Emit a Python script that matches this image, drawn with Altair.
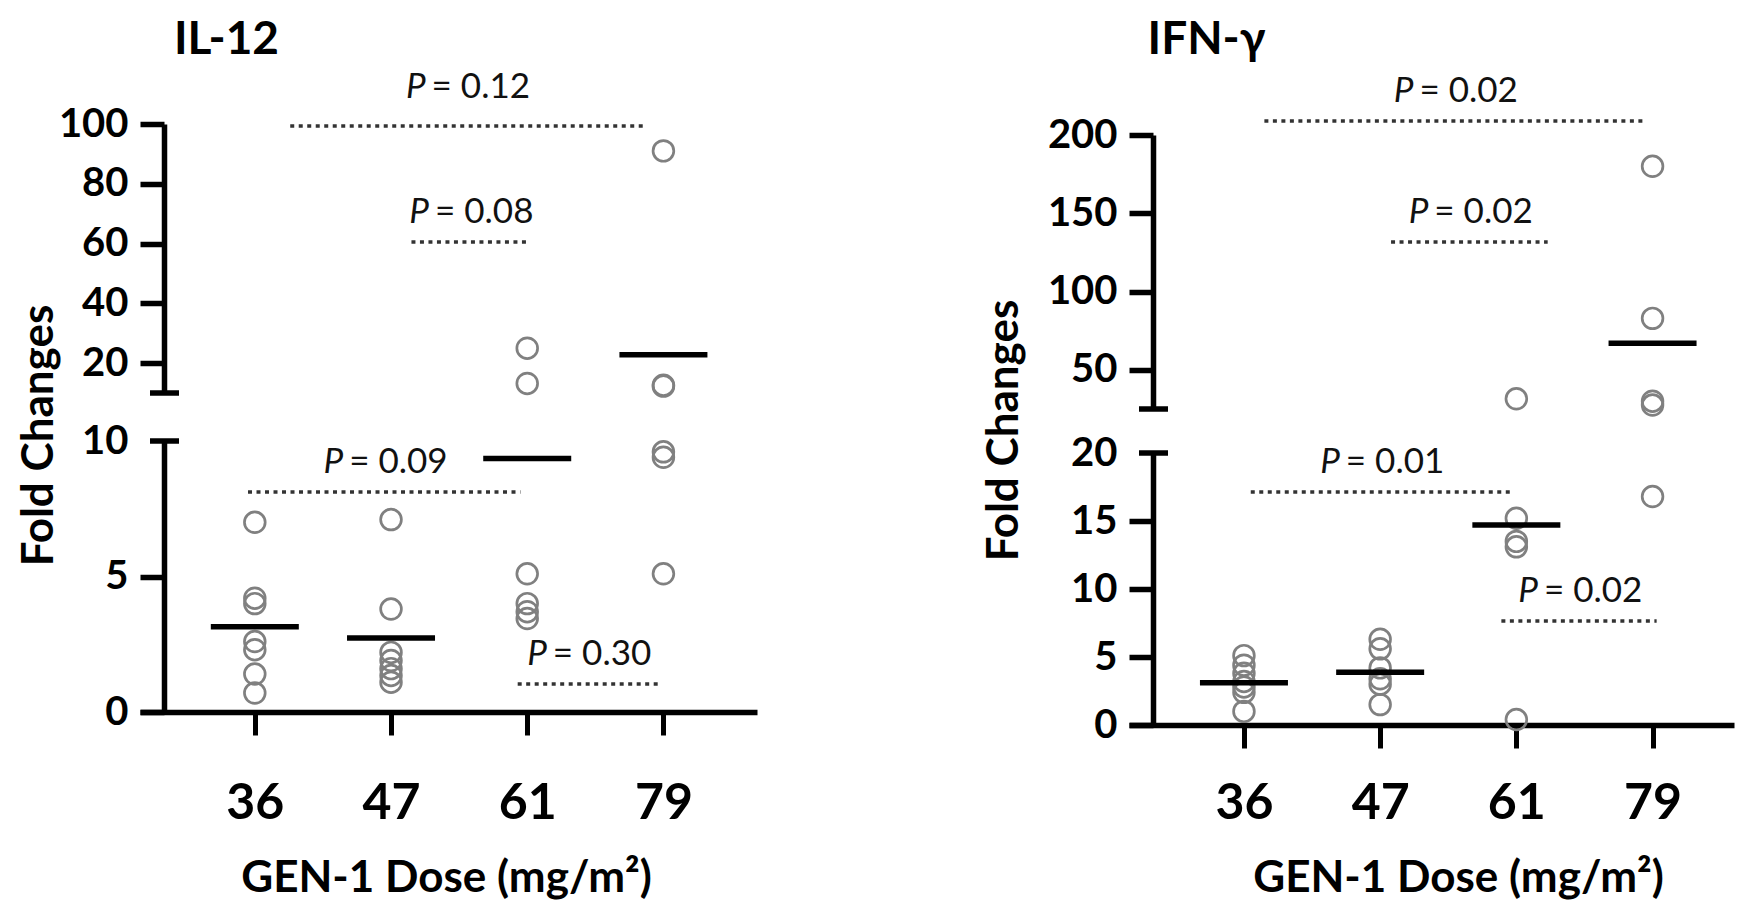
import altair as alt
import pandas as pd

FONT = "Lato"
doses = ["36", "47", "61", "79"]
x_title = "GEN-1 Dose (mg/m²)"
y_title = "Fold Changes"

# ---- IL-12 fold changes per dose group ----
il12_36 = [7.0, 4.2, 4.0, 2.6, 2.3, 1.4, 0.7]
il12_47 = [7.1, 3.8, 2.2, 1.9, 1.6, 1.35, 1.1]
il12_61 = [25.0, 13.2, 5.1, 4.0, 3.7, 3.45]
il12_79 = [91.0, 12.6, 12.3, 9.6, 9.4, 5.1]
il12_mean = [3.15, 2.73, 9.35, 22.8]

# ---- IFN-gamma fold changes per dose group ----
ifn_36 = [5.1, 4.4, 3.8, 3.2, 2.8, 2.4, 1.0]
ifn_47 = [6.3, 5.6, 4.2, 3.4, 3.0, 1.5]
ifn_61 = [31.5, 15.2, 13.5, 13.1, 0.4]
ifn_79 = [180.0, 82.9, 30.0, 27.5, 16.8]
ifn_mean = [3.1, 3.87, 14.7, 67.0]

# ---- P-value brackets (group position 0..3 = 36..79) ----
il12_p_text = ["= 0.12", "= 0.08", "= 0.09", "= 0.30"]
il12_p_from = [0.26, 1.15, -0.05, 1.93]
il12_p_to = [2.85, 2.01, 1.95, 2.96]
il12_p_level = [99.3, 60.5, 8.12, 1.03]
il12_p_text_level = [108.7, 66.9, 8.82, 1.73]

ifn_p_text = ["= 0.02", "= 0.02", "= 0.01", "= 0.02"]
ifn_p_from = [0.15, 1.08, 0.05, 1.89]
ifn_p_to = [2.94, 2.23, 1.96, 3.03]
ifn_p_level = [208.9, 131.7, 17.13, 7.65]
ifn_p_text_level = [221.1, 143.8, 18.53, 9.04]

W, H = 1730, 891
AXW = 5.5
label_expr = "[" + ",".join("'%s'" % d for d in doses) + "][datum.value]"
LABEL_STYLE = dict(labelFont=FONT, labelFontSize=40, labelFontWeight="bold",
                   labelColor="black")


def points_df(groups):
    rows = []
    for i, vals in enumerate(groups):
        for v in vals:
            rows.append({"pos": i, "value": v})
    return pd.DataFrame(rows)


def mean_df(means):
    return pd.DataFrame({"pos": list(range(len(means))), "value": means})


def ann_df(texts, x1, x2, lvl, tl):
    return pd.DataFrame({
        "t": texts, "x1": x1, "x2": x2, "lvl": lvl, "tl": tl,
        "xc": [(a + b) / 2 for a, b in zip(x1, x2)],
        "p": ["P"] * len(texts),
    })


def y_axis(ticks, offset, title_kw):
    return alt.Axis(orient="left", values=ticks, offset=offset, tickSize=24,
                    tickWidth=AXW, tickColor="black", domainWidth=AXW,
                    domainColor="black", labelPadding=12, grid=False,
                    **LABEL_STYLE, **title_kw)


def cap_axis(cap, offset):
    # label only (no tick) for the value at the axis break
    return alt.Axis(orient="left", values=[cap], offset=offset, ticks=False,
                    tickSize=0, domain=False, labelPadding=36, grid=False,
                    title=None, **LABEL_STYLE)


def segment(pts, means, ann, xs, ys, cap, cap_px, x_axis, y_ax, cap_ax):
    layers = []
    layers.append(alt.Chart(pts).mark_point(
        shape="circle", size=430, strokeWidth=2.7, color="#808080",
        filled=False, opacity=1
    ).encode(
        x=alt.X("pos:Q", scale=xs, axis=x_axis),
        y=alt.Y("value:Q", scale=ys, axis=y_ax),
    ))
    layers.append(alt.Chart(means).mark_tick(
        orient="horizontal", size=88, thickness=5.5, color="black", opacity=1
    ).encode(
        x=alt.X("pos:Q", scale=xs, axis=None),
        y=alt.Y("value:Q", scale=ys, axis=None),
    ))
    layers.append(alt.Chart(pd.DataFrame({"c": [cap]})).mark_rule(
        color="black", strokeWidth=AXW
    ).encode(
        x=alt.value(cap_px[0]), x2=alt.value(cap_px[1]),
        y=alt.Y("c:Q", scale=ys, axis=cap_ax),
    ))
    if len(ann):
        layers.append(alt.Chart(ann).mark_rule(
            color="#333333", strokeWidth=3.5, strokeDash=[4, 4.5]
        ).encode(
            x=alt.X("x1:Q", scale=xs, axis=None), x2="x2:Q",
            y=alt.Y("lvl:Q", scale=ys, axis=None),
        ))
        layers.append(alt.Chart(ann).mark_text(
            font=FONT, fontSize=35, align="left", baseline="alphabetic",
            dx=-35, color="#111111"
        ).encode(
            x=alt.X("xc:Q", scale=xs, axis=None),
            y=alt.Y("tl:Q", scale=ys, axis=None),
            text="t:N",
        ))
        layers.append(alt.Chart(ann).mark_text(
            font=FONT, fontSize=35, fontStyle="italic", align="right",
            baseline="alphabetic", dx=-41, color="#111111"
        ).encode(
            x=alt.X("xc:Q", scale=xs, axis=None),
            y=alt.Y("tl:Q", scale=ys, axis=None),
            text="p:N",
        ))
    return layers


def top_axis(title, tx, ty):
    return alt.Axis(orient="top", offset=0, title=title, titleX=tx, titleY=ty,
                    titleAlign="center", titleBaseline="alphabetic",
                    titleAngle=0, titleFont=FONT, titleFontSize=46,
                    titleFontWeight="bold", titleColor="black",
                    labels=False, ticks=False, domain=False, grid=False)


def bottom_axis(offset, lp, tx, ty):
    return alt.Axis(orient="bottom", offset=offset, values=[0, 1, 2, 3],
                    labelExpr=label_expr, tickSize=23, tickWidth=5,
                    tickColor="black", domainWidth=AXW, domainColor="black",
                    labelFont=FONT, labelFontSize=50, labelFontWeight="bold",
                    labelColor="black", labelBaseline="alphabetic",
                    labelPadding=lp, labelFlush=False, grid=False,
                    title=x_title, titleX=tx, titleY=ty, titleAlign="center",
                    titleBaseline="alphabetic", titleAngle=0, titleFont=FONT,
                    titleFontSize=44, titleFontWeight="bold", titleColor="black")


def ytitle_kw(tx, ty):
    return dict(title=y_title, titleX=tx, titleY=ty, titleAlign="center",
                titleBaseline="alphabetic", titleAngle=270, titleFont=FONT,
                titleFontSize=44, titleFontWeight="bold", titleColor="black")


def qscale(domain, rng):
    return alt.Scale(domain=domain, range=rng, nice=False, zero=False)


layers = []

# ---- IL-12 panel ----
il12_pts = points_df([il12_36, il12_47, il12_61, il12_79])
il12_m = mean_df(il12_mean)
il12_ann = ann_df(il12_p_text, il12_p_from, il12_p_to, il12_p_level, il12_p_text_level)
LB = 10
L_xs = qscale([-0.843, 3.687], [132, 749])
layers += segment(
    il12_pts[il12_pts.value >= LB], il12_m[il12_m.value >= LB],
    il12_ann[il12_ann.lvl >= LB], L_xs, qscale([10, 100], [385, 116]),
    10, (142, 171), top_axis("IL-12", 218, 45),
    y_axis([20, 40, 60, 80, 100], -156, dict(title=None)), None)
layers += segment(
    il12_pts[il12_pts.value < LB], il12_m[il12_m.value < LB],
    il12_ann[il12_ann.lvl < LB], L_xs, qscale([0, 10], [704, 433]),
    10, (142, 171), bottom_axis(704 - H, 83, 438, 179),
    y_axis([0, 5], -156, ytitle_kw(-112, 427)), cap_axis(10, -156))

# ---- IFN-gamma panel ----
ifn_pts = points_df([ifn_36, ifn_47, ifn_61, ifn_79])
ifn_m = mean_df(ifn_mean)
ifn_ann = ann_df(ifn_p_text, ifn_p_from, ifn_p_to, ifn_p_level, ifn_p_text_level)
RB = 22
R_xs = qscale([-0.844, 3.598], [1121, 1726])
layers += segment(
    ifn_pts[ifn_pts.value >= RB], ifn_m[ifn_m.value >= RB],
    ifn_ann[ifn_ann.lvl >= RB], R_xs, qscale([25, 200], [401, 127]),
    25, (1131, 1160), top_axis("IFN-γ", 1198, 45),
    y_axis([50, 100, 150, 200], -1145, dict(title=None)), None)
layers += segment(
    ifn_pts[ifn_pts.value < RB], ifn_m[ifn_m.value < RB],
    ifn_ann[ifn_ann.lvl < RB], R_xs, qscale([0, 20], [717, 445]),
    20, (1131, 1160), bottom_axis(717 - H, 70, 1450, 166),
    y_axis([0, 5, 10, 15], -1145, ytitle_kw(-136, 422)), cap_axis(20, -1145))

chart = alt.layer(*layers).resolve_scale(
    x="independent", y="independent"
).properties(
    width=W, height=H, padding=0, background="white"
).configure_view(stroke=None)

chart.save("out.html", embed_options={"renderer": "svg", "actions": False})
